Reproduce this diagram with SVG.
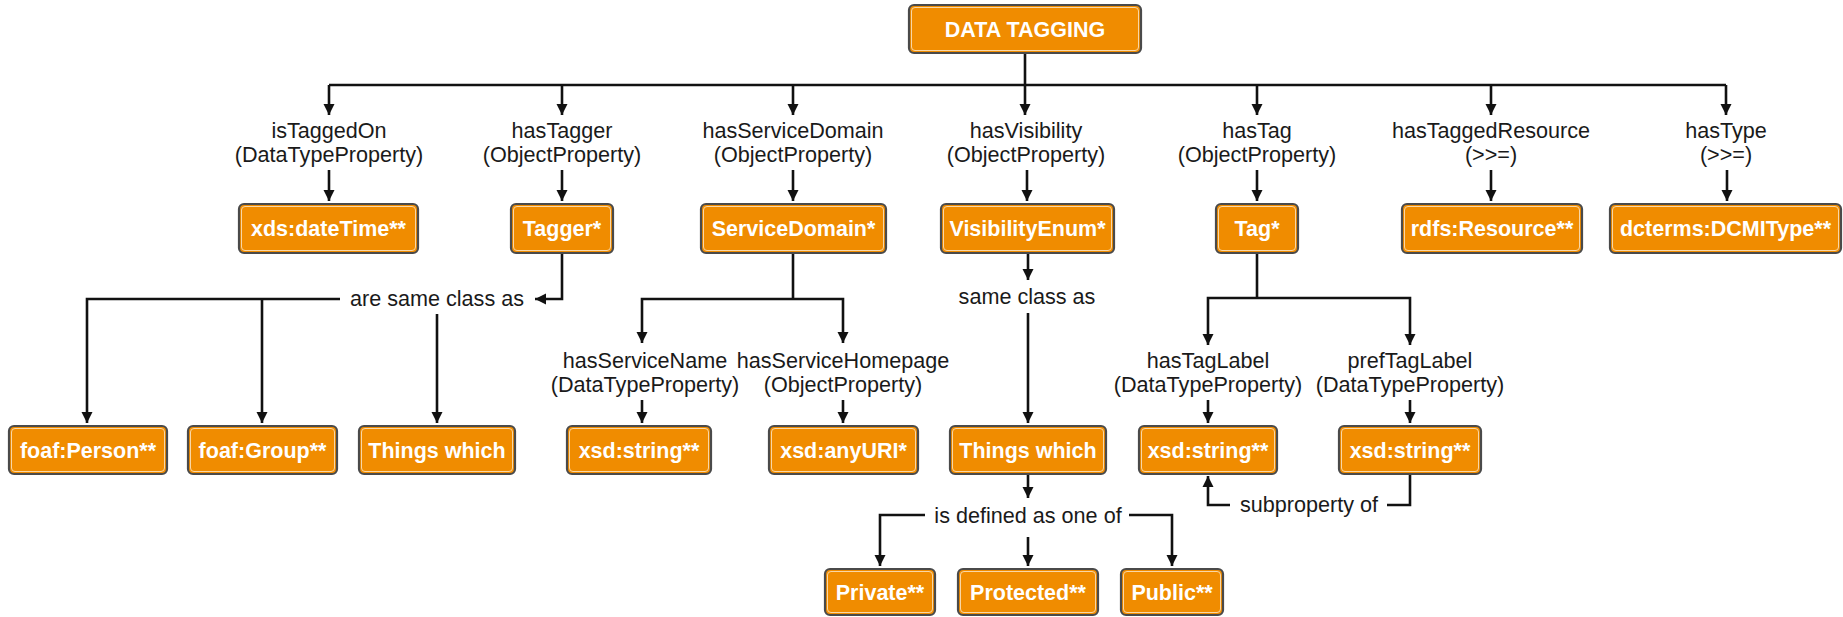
<svg xmlns="http://www.w3.org/2000/svg" width="1843" height="617" viewBox="0 0 1843 617">
<style>
.box{fill:#F08C00;stroke:#4a4a4a;stroke-width:2.2}
.inner{fill:none;stroke:#f9d7a6;stroke-width:1}
.bt{font-family:"Liberation Sans",Arial,sans-serif;font-weight:bold;font-size:21.5px;fill:#ffffff;text-anchor:middle}
.lb{font-family:"Liberation Sans",Arial,sans-serif;font-size:21.6px;fill:#1a1a1a;text-anchor:middle}
.ln{fill:none;stroke:#111;stroke-width:2.6}
.ar{marker-end:url(#arr)}
</style>
<defs>
<marker id="arr" markerUnits="userSpaceOnUse" markerWidth="12" markerHeight="12" refX="11" refY="6" orient="auto">
<path d="M0,0.5 L11,6 L0,11.5 z" fill="#111"/>
</marker>
</defs>

<g id="connectors">
<path class="ln" d="M1025,53 V85 M329,85 H1726"/>
<path class="ln ar" d="M329,85 V115"/>
<path class="ln ar" d="M562,85 V115"/>
<path class="ln ar" d="M793,85 V115"/>
<path class="ln ar" d="M1025,85 V115"/>
<path class="ln ar" d="M1257,85 V115"/>
<path class="ln ar" d="M1491,85 V115"/>
<path class="ln ar" d="M1726,85 V115"/>
<path class="ln ar" d="M329,170 V201"/>
<path class="ln ar" d="M562,170 V201"/>
<path class="ln ar" d="M793,170 V201"/>
<path class="ln ar" d="M1027,170 V201"/>
<path class="ln ar" d="M1257,170 V201"/>
<path class="ln ar" d="M1491,170 V201"/>
<path class="ln ar" d="M1727,170 V201"/>
<!-- Tagger -->
<path class="ln ar" d="M562,253 V299 H535"/>
<path class="ln ar" d="M340,299 H87 V423"/>
<path class="ln ar" d="M262,299 V423"/>
<path class="ln ar" d="M437,314 V423"/>
<!-- ServiceDomain -->
<path class="ln" d="M793,253 V299"/>
<path class="ln ar" d="M793,299 H642 V343"/>
<path class="ln ar" d="M793,299 H843 V343"/>
<path class="ln ar" d="M642,400 V423"/>
<path class="ln ar" d="M843,400 V423"/>
<!-- Visibility -->
<path class="ln ar" d="M1028,253 V280"/>
<path class="ln ar" d="M1028,313 V423"/>
<path class="ln ar" d="M1028,474 V498"/>
<path class="ln ar" d="M925,515 H880 V566"/>
<path class="ln ar" d="M1028,537 V566"/>
<path class="ln ar" d="M1129,515 H1172 V566"/>
<!-- Tag -->
<path class="ln" d="M1257,253 V298"/>
<path class="ln ar" d="M1257,298 H1208 V345"/>
<path class="ln ar" d="M1257,298 H1410 V345"/>
<path class="ln ar" d="M1208,400 V423"/>
<path class="ln ar" d="M1410,400 V423"/>
<path class="ln" d="M1410,474 V505 H1387"/>
<path class="ln ar" d="M1230,505 H1208 V476"/>
</g>

<g id="labels">
<text class="lb" x="329" y="138">isTaggedOn</text>
<text class="lb" x="329" y="162">(DataTypeProperty)</text>
<text class="lb" x="562" y="138">hasTagger</text>
<text class="lb" x="562" y="162">(ObjectProperty)</text>
<text class="lb" x="793" y="138">hasServiceDomain</text>
<text class="lb" x="793" y="162">(ObjectProperty)</text>
<text class="lb" x="1026" y="138">hasVisibility</text>
<text class="lb" x="1026" y="162">(ObjectProperty)</text>
<text class="lb" x="1257" y="138">hasTag</text>
<text class="lb" x="1257" y="162">(ObjectProperty)</text>
<text class="lb" x="1491" y="138">hasTaggedResource</text>
<text class="lb" x="1491" y="162">(&gt;&gt;=)</text>
<text class="lb" x="1726" y="138">hasType</text>
<text class="lb" x="1726" y="162">(&gt;&gt;=)</text>
<text class="lb" x="437" y="306">are same class as</text>
<text class="lb" x="1027" y="304">same class as</text>
<text class="lb" x="645" y="368">hasServiceName</text>
<text class="lb" x="645" y="392">(DataTypeProperty)</text>
<text class="lb" x="843" y="368">hasServiceHomepage</text>
<text class="lb" x="843" y="392">(ObjectProperty)</text>
<text class="lb" x="1208" y="368">hasTagLabel</text>
<text class="lb" x="1208" y="392">(DataTypeProperty)</text>
<text class="lb" x="1410" y="368">prefTagLabel</text>
<text class="lb" x="1410" y="392">(DataTypeProperty)</text>
<text class="lb" x="1028" y="523">is defined as one of</text>
<text class="lb" x="1309" y="512">subproperty of</text>
</g>

<g id="n-root"><rect class="box" x="909" y="5" width="232" height="48" rx="5"/><rect class="inner" x="911.5" y="7.5" width="227" height="43" rx="3.5"/><text class="bt" x="1025" y="37">DATA TAGGING</text></g>

<g id="n-datetime"><rect class="box" x="239" y="204" width="179" height="49" rx="5"/><rect class="inner" x="241.5" y="206.5" width="174" height="44" rx="3.5"/><text class="bt" x="328.5" y="236">xds:dateTime**</text></g>
<g id="n-tagger"><rect class="box" x="511" y="204" width="102" height="49" rx="5"/><rect class="inner" x="513.5" y="206.5" width="97" height="44" rx="3.5"/><text class="bt" x="562" y="236">Tagger*</text></g>
<g id="n-servicedomain"><rect class="box" x="701" y="204" width="185" height="49" rx="5"/><rect class="inner" x="703.5" y="206.5" width="180" height="44" rx="3.5"/><text class="bt" x="793.5" y="236">ServiceDomain*</text></g>
<g id="n-visibility"><rect class="box" x="941" y="204" width="173" height="49" rx="5"/><rect class="inner" x="943.5" y="206.5" width="168" height="44" rx="3.5"/><text class="bt" x="1027.5" y="236">VisibilityEnum*</text></g>
<g id="n-tag"><rect class="box" x="1216" y="204" width="82" height="49" rx="5"/><rect class="inner" x="1218.5" y="206.5" width="77" height="44" rx="3.5"/><text class="bt" x="1257" y="236">Tag*</text></g>
<g id="n-resource"><rect class="box" x="1402" y="204" width="180" height="49" rx="5"/><rect class="inner" x="1404.5" y="206.5" width="175" height="44" rx="3.5"/><text class="bt" x="1492" y="236">rdfs:Resource**</text></g>
<g id="n-dcmitype"><rect class="box" x="1610" y="204" width="231" height="49" rx="5"/><rect class="inner" x="1612.5" y="206.5" width="226" height="44" rx="3.5"/><text class="bt" x="1725.5" y="236">dcterms:DCMIType**</text></g>

<g id="n-person"><rect class="box" x="9" y="426" width="158" height="48" rx="5"/><rect class="inner" x="11.5" y="428.5" width="153" height="43" rx="3.5"/><text class="bt" x="88" y="458">foaf:Person**</text></g>
<g id="n-group"><rect class="box" x="188" y="426" width="149" height="48" rx="5"/><rect class="inner" x="190.5" y="428.5" width="144" height="43" rx="3.5"/><text class="bt" x="262.5" y="458">foaf:Group**</text></g>
<g id="n-things1"><rect class="box" x="359" y="426" width="156" height="48" rx="5"/><rect class="inner" x="361.5" y="428.5" width="151" height="43" rx="3.5"/><text class="bt" x="437" y="458">Things which</text></g>
<g id="n-string1"><rect class="box" x="567" y="426" width="144" height="48" rx="5"/><rect class="inner" x="569.5" y="428.5" width="139" height="43" rx="3.5"/><text class="bt" x="639" y="458">xsd:string**</text></g>
<g id="n-anyuri"><rect class="box" x="769" y="426" width="149" height="48" rx="5"/><rect class="inner" x="771.5" y="428.5" width="144" height="43" rx="3.5"/><text class="bt" x="843.5" y="458">xsd:anyURI*</text></g>
<g id="n-things2"><rect class="box" x="950" y="426" width="156" height="48" rx="5"/><rect class="inner" x="952.5" y="428.5" width="151" height="43" rx="3.5"/><text class="bt" x="1028" y="458">Things which</text></g>
<g id="n-string2"><rect class="box" x="1139" y="426" width="138" height="48" rx="5"/><rect class="inner" x="1141.5" y="428.5" width="133" height="43" rx="3.5"/><text class="bt" x="1208" y="458">xsd:string**</text></g>
<g id="n-string3"><rect class="box" x="1339" y="426" width="142" height="48" rx="5"/><rect class="inner" x="1341.5" y="428.5" width="137" height="43" rx="3.5"/><text class="bt" x="1410" y="458">xsd:string**</text></g>

<g id="n-private"><rect class="box" x="825" y="569" width="110" height="46" rx="5"/><rect class="inner" x="827.5" y="571.5" width="105" height="41" rx="3.5"/><text class="bt" x="880" y="600">Private**</text></g>
<g id="n-protected"><rect class="box" x="958" y="569" width="140" height="46" rx="5"/><rect class="inner" x="960.5" y="571.5" width="135" height="41" rx="3.5"/><text class="bt" x="1028" y="600">Protected**</text></g>
<g id="n-public"><rect class="box" x="1121" y="569" width="102" height="46" rx="5"/><rect class="inner" x="1123.5" y="571.5" width="97" height="41" rx="3.5"/><text class="bt" x="1172" y="600">Public**</text></g>
</svg>
